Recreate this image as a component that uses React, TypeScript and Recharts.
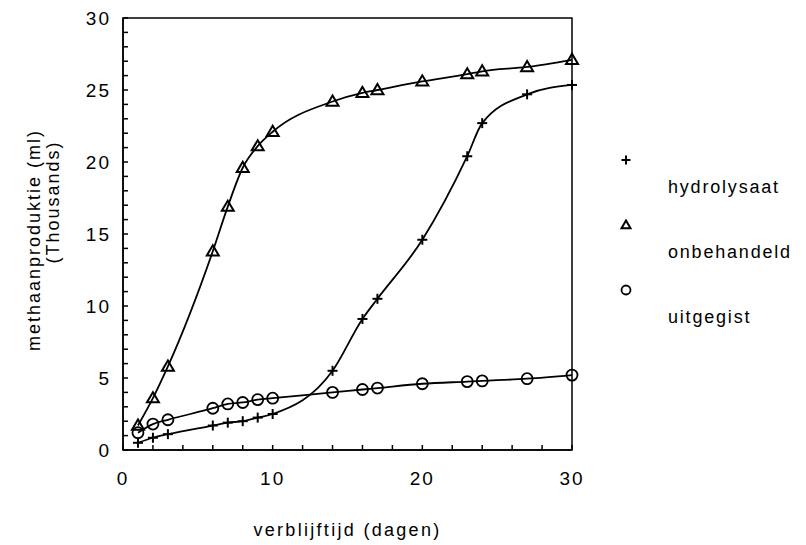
import { LineChart, Line, XAxis, YAxis, ReferenceArea, Label } from "recharts";

// verblijftijd (dagen)
const days = [1, 2, 3, 6, 7, 8, 9, 10, 14, 16, 17, 20, 23, 24, 27, 30];
// methaanproduktie (ml, thousands)
const hydrolysaat = [0.5, 0.85, 1.1, 1.7, 1.9, 2.0, 2.25, 2.5, 5.5, 9.1, 10.5, 14.6, 20.4, 22.7, 24.7, 25.35];
const onbehandeld = [1.7, 3.6, 5.8, 13.8, 16.9, 19.6, 21.1, 22.1, 24.2, 24.8, 25.0, 25.6, 26.1, 26.3, 26.6, 27.1];
const uitgegist = [1.2, 1.8, 2.1, 2.9, 3.2, 3.3, 3.5, 3.6, 4.0, 4.2, 4.3, 4.6, 4.75, 4.8, 4.95, 5.2];

const xTicks = [0, 2, 4, 6, 8, 10, 12, 14, 16, 18, 20, 22, 24, 26, 28, 30];
const xLabels = [0, 10, 20, 30];
const yTicks = [0, 1, 2, 3, 4, 5, 6, 7, 8, 9, 10, 11, 12, 13, 14, 15, 16, 17, 18, 19, 20, 21, 22, 23, 24, 25, 26, 27, 28, 29, 30];
const yLabels = [0, 5, 10, 15, 20, 25, 30];

const legendNames = ["hydrolysaat", "onbehandeld", "uitgegist"];

const data = days.map((d, i) => ({
  day: d,
  hydrolysaat: hydrolysaat[i],
  onbehandeld: onbehandeld[i],
  uitgegist: uitgegist[i],
}));

const FONT = '"Liberation Sans", Arial, sans-serif';
const ink = "#000";

function PlusMark({ cx, cy, s = 5 }: any) {
  return (
    <g stroke={ink} strokeWidth={2}>
      <line x1={cx - s} y1={cy} x2={cx + s} y2={cy} />
      <line x1={cx} y1={cy - s} x2={cx} y2={cy + s} />
    </g>
  );
}

function TriMark({ cx, cy, s = 6 }: any) {
  return (
    <polygon
      points={`${cx},${cy - s} ${cx - s},${cy + s * 0.7} ${cx + s},${cy + s * 0.7}`}
      fill="none"
      stroke={ink}
      strokeWidth={2}
    />
  );
}

function CircleMark({ cx, cy, s = 5.5 }: any) {
  return <circle cx={cx} cy={cy} r={s} fill="none" stroke={ink} strokeWidth={1.8} />;
}

function XTick({ x, y, payload }: any) {
  const v = payload.value;
  return (
    <g>
      <line x1={x} y1={y} x2={x} y2={y - 5} stroke={ink} strokeWidth={1.5} />
      {xLabels.includes(v) && (
        <text x={x} y={y + 35} textAnchor="middle" fontFamily={FONT} fontSize={19} letterSpacing={2} fill={ink}>
          {v}
        </text>
      )}
    </g>
  );
}

function YTick({ x, y, payload }: any) {
  const v = payload.value;
  return (
    <g>
      <line x1={x} y1={y} x2={x + 5} y2={y} stroke={ink} strokeWidth={1.5} />
      {yLabels.includes(v) && (
        <text x={x - 12} y={y + 7} textAnchor="end" fontFamily={FONT} fontSize={19} letterSpacing={2} fill={ink}>
          {v}
        </text>
      )}
    </g>
  );
}

function YTitle() {
  return (
    <g fontFamily={FONT} fontSize={18} letterSpacing={2} fill={ink} style={{ whiteSpace: "pre" }}>
      <text x={40} y={240} transform="rotate(-90 40 240)" textAnchor="middle">
        methaanproduktie  (ml)
      </text>
      <text x={59} y={202} transform="rotate(-90 59 202)" textAnchor="middle">
        (Thousands)
      </text>
    </g>
  );
}

const legendMarks = [PlusMark, TriMark, CircleMark];
const legendTop = [160, 225, 290];

export default function App() {
  return (
    <div style={{ position: "relative", width: 806, height: 545 }}>
      <style>{"body{margin:0}"}</style>
      <LineChart
        width={806}
        height={545}
        data={data}
        margin={{ top: 18, right: 234, bottom: 0, left: 0 }}
      >
        <XAxis
          dataKey="day"
          type="number"
          domain={[0, 30]}
          ticks={xTicks}
          interval={0}
          tickSize={0}
          tickMargin={0}
          tick={<XTick />}
          height={95}
          axisLine={{ stroke: ink, strokeWidth: 1.5 }}
          tickLine={false}
        >
          <Label
            value="verblijftijd  (dagen)"
            position="insideBottom"
            offset={9}
            style={{ fontFamily: FONT, fontSize: 18, letterSpacing: 2.3, fill: ink, whiteSpace: "pre" }}
          />
        </XAxis>
        <YAxis
          type="number"
          domain={[0, 30]}
          ticks={yTicks}
          interval={0}
          tickSize={0}
          tickMargin={0}
          tick={<YTick />}
          width={123}
          axisLine={{ stroke: ink, strokeWidth: 1.5 }}
          tickLine={false}
          label={{ content: () => <YTitle /> }}
        />
        <ReferenceArea x1={0} x2={30} y1={0} y2={30} fill="none" stroke={ink} strokeWidth={1.5} ifOverflow="visible" />
        <Line
          type="monotone"
          dataKey="onbehandeld"
          stroke={ink}
          strokeWidth={1.8}
          dot={(p: any) => <TriMark key={`t${p.index}`} cx={p.cx} cy={p.cy} />}
          isAnimationActive={false}
        />
        <Line
          type="monotone"
          dataKey="hydrolysaat"
          stroke={ink}
          strokeWidth={1.8}
          dot={(p: any) => <PlusMark key={`p${p.index}`} cx={p.cx} cy={p.cy} />}
          isAnimationActive={false}
        />
        <Line
          type="monotone"
          dataKey="uitgegist"
          stroke={ink}
          strokeWidth={1.8}
          dot={(p: any) => <CircleMark key={`c${p.index}`} cx={p.cx} cy={p.cy} />}
          isAnimationActive={false}
        />
      </LineChart>
      <svg
        width={806}
        height={545}
        style={{ position: "absolute", left: 0, top: 0, pointerEvents: "none" }}
      >
        {legendNames.map((name, i) => {
          const Mark = legendMarks[i];
          return (
            <g key={name}>
              <Mark cx={626} cy={legendTop[i]} s={4.5} />
              <text
                x={668}
                y={legendTop[i] + 33}
                fontFamily={FONT}
                fontSize={18}
                letterSpacing={1.8}
                fill={ink}
              >
                {name}
              </text>
            </g>
          );
        })}
      </svg>
    </div>
  );
}
